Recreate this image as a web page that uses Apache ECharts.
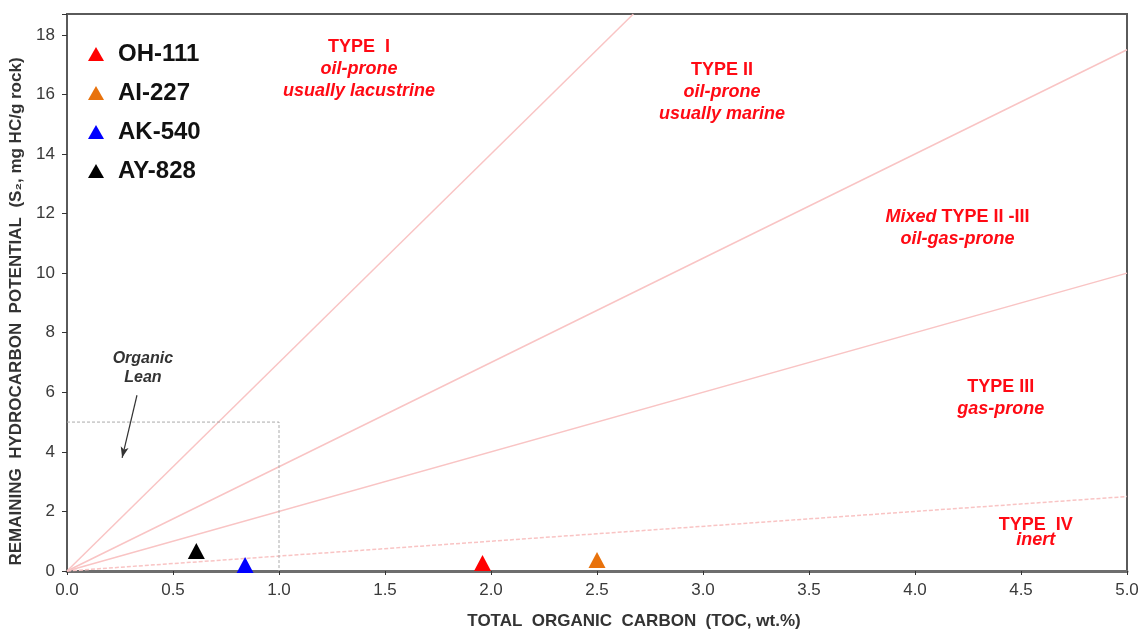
<!DOCTYPE html>
<html>
<head>
<meta charset="utf-8">
<script src="https://cdn.jsdelivr.net/npm/echarts@6/dist/echarts.min.js"></script>
<style>
  html, body { margin: 0; padding: 0; background: #fff; }
  #chart { width: 1142px; height: 630px; }
</style>
</head>
<body>
<div id="chart"></div>
<script>
// samples (TOC wt.% vs S2 mg HC/g rock)
const samples = ['OH-111', 'AI-227', 'AK-540', 'AY-828']
const sampleToc = [1.96, 2.50, 0.84, 0.61]
const sampleS2 = [0.27, 0.37, 0.20, 0.67]
const sampleColors = ['#ff0000', '#e8720c', '#0000ff', '#000000']

// kerogen type boundary lines, slope = S2 / TOC
const typeSlopes = [7, 3.5, 2, 0.5]

// axis extents
const xMax = 5
const yMax = 18.7

// organic lean box corner (TOC, S2)
const leanBox = [[0, 5], [1, 5], [1, 0]]

// type annotations: first line plain (part before | italic), rest italic
const typeTexts = [
  ['TYPE  I', 'oil-prone', 'usually lacustrine'],
  ['TYPE II', 'oil-prone', 'usually marine'],
  ['Mixed| TYPE II -III', 'oil-gas-prone'],
  ['TYPE III', 'gas-prone'],
  ['TYPE  IV', 'inert']
]
const typeTextAt = [[1.377, 16.86], [3.09, 16.08], [4.2, 11.52], [4.405, 5.81], [4.57, 1.3]]

const font = 'Arial, "Liberation Sans", sans-serif'
const red = '#ff0a14'
const chart = echarts.init(document.getElementById('chart'))

function richLines (lines) {
  return lines.map((l, i) => {
    if (i === 0) {
      if (l.indexOf('|') >= 0) {
        const p = l.split('|')
        return '{i|' + p[0] + '}{b|' + p[1] + '}'
      }
      return '{b|' + l + '}'
    }
    return '{i|' + l + '}'
  }).join('\n')
}

const series = []

typeSlopes.forEach((s, i) => {
  const xe = Math.min(xMax, yMax / s)
  series.push({
    type: 'line',
    silent: true,
    symbol: 'none',
    lineStyle: { color: '#f9c4c4', width: 1.5, opacity: 1, type: i === 3 ? [4, 2] : 'solid' },
    data: [[0, 0], [xe, xe * s]],
    z: 1
  })
})

series.push({
  type: 'line',
  silent: true,
  symbol: 'none',
  lineStyle: { color: '#aaaaaa', width: 1, type: [3, 2] },
  data: leanBox,
  markLine: {
    silent: true,
    symbol: ['none', 'arrow'],
    symbolSize: [6, 11],
    label: { show: false },
    lineStyle: { color: '#333', width: 1.2, type: 'solid' },
    data: [[{ coord: [0.33, 5.9] }, { coord: [0.26, 3.8] }]]
  },
  z: 1
})

series.push({
  type: 'scatter',
  silent: true,
  symbolSize: 0,
  itemStyle: { opacity: 1 },
  data: [{
    value: [0.358, 6.82],
    label: {
      show: true,
      position: 'inside',
      formatter: 'Organic\nLean',
      color: '#333',
      fontFamily: font,
      fontSize: 16,
      fontWeight: 'bold',
      fontStyle: 'italic',
      lineHeight: 19
    }
  }],
  z: 2
})

series.push({
  type: 'scatter',
  silent: true,
  symbolSize: 0,
  itemStyle: { opacity: 1 },
  data: typeTexts.map((t, i) => ({
    value: typeTextAt[i],
    label: {
      show: true,
      position: 'inside',
      formatter: richLines(t),
      rich: {
        b: { color: red, fontFamily: font, fontSize: 18, fontWeight: 'bold', lineHeight: i === 4 ? 15 : 22 },
        i: { color: red, fontFamily: font, fontSize: 18, fontWeight: 'bold', fontStyle: 'italic', lineHeight: i === 4 ? 15 : 22 }
      }
    }
  })),
  z: 2
})

samples.forEach((name, i) => {
  series.push({
    name: name,
    type: 'scatter',
    symbol: 'triangle',
    symbolSize: [17, 16],
    itemStyle: { color: sampleColors[i], opacity: 1 },
    data: [[sampleToc[i], sampleS2[i]]],
    z: 5
  })
})

const option = {
  animation: false,
  backgroundColor: '#fff',
  grid: {
    left: 67, right: 15, top: 14, bottom: 59,
    containLabel: false,
    outerBoundsMode: 'none',
    show: true,
    borderColor: '#5a5a5a',
    borderWidth: 2,
    backgroundColor: '#fff'
  },
  legend: {
    orient: 'vertical',
    left: 83,
    top: 37,
    icon: 'triangle',
    itemWidth: 16,
    itemHeight: 14,
    itemGap: 15,
    data: samples,
    itemStyle: { opacity: 1 },
    textStyle: { color: '#111', fontFamily: font, fontSize: 24, fontWeight: 'bold', padding: [0, 0, 0, 9] }
  },
  xAxis: {
    type: 'value',
    min: 0,
    max: xMax,
    interval: 0.5,
    splitLine: { show: false },
    axisLine: { lineStyle: { color: '#6e6e6e', width: 3 } },
    axisTick: { length: 4, lineStyle: { color: '#333', width: 1 } },
    axisLabel: { color: '#3a3a3a', fontFamily: font, fontSize: 17, margin: 11, formatter: v => v.toFixed(1) },
    name: 'TOTAL  ORGANIC  CARBON  (TOC, wt.%)',
    nameLocation: 'middle',
    nameGap: 42,
    nameTextStyle: { color: '#333', fontFamily: font, fontSize: 17, fontWeight: 'bold', padding: [0, 0, 0, 74] }
  },
  yAxis: {
    type: 'value',
    min: 0,
    max: yMax,
    interval: 2,
    splitLine: { show: false },
    axisLine: { lineStyle: { color: '#5a5a5a', width: 2 } },
    axisTick: { length: 5, lineStyle: { color: '#333', width: 1 } },
    axisLabel: {
      color: '#3a3a3a', fontFamily: font, fontSize: 17, margin: 12,
      formatter: v => (Math.abs(v - Math.round(v)) < 1e-6 ? String(v) : '')
    },
    name: 'REMAINING  HYDROCARBON  POTENTIAL  (S₂, mg HC/g rock)',
    nameLocation: 'middle',
    nameGap: 39,
    nameTextStyle: { color: '#333', fontFamily: font, fontSize: 17, fontWeight: 'bold', padding: [0, 38, 0, 0] }
  },
  series: series
}

chart.setOption(option)
</script>
</body>
</html>
